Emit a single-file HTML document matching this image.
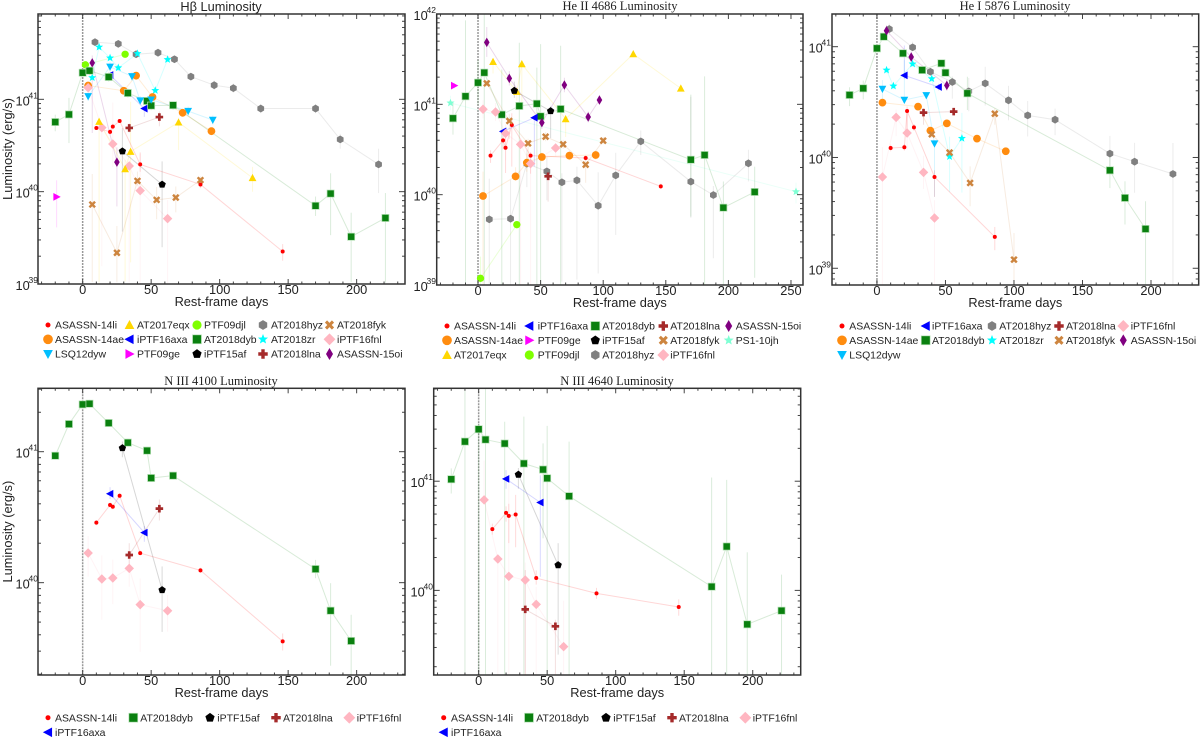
<!DOCTYPE html>
<html>
<head>
<meta charset="utf-8">
<title>Emission line luminosities</title>
<style>
html,body{margin:0;padding:0;background:#fff}
svg{display:block}
text{font-family:"Liberation Sans",sans-serif;fill:#222}
.ttl{font-family:"Liberation Serif",serif;font-size:12.5px;text-anchor:middle}
</style>
</head>
<body>
<svg id="chart" xmlns="http://www.w3.org/2000/svg" width="1200" height="743" viewBox="0 0 1200 743">
<rect width="1200" height="743" fill="#fff"/>
<text x="221" y="11" style="font-size:12.8px;text-anchor:middle">Hβ Luminosity</text>
<text x="620" y="10" class="ttl">He II 4686 Luminosity</text>
<text x="1015" y="10" class="ttl">He I 5876 Luminosity</text>
<text x="221" y="385" class="ttl">N III 4100 Luminosity</text>
<text x="617" y="385" class="ttl">N III 4640 Luminosity</text>
</svg>
<script>
// ---- Hβ panel: days, log10 luminosity, error up / down (dex)
const h_14li_d=[10,20,22,27,42,86,146];
const h_14li_l=[40.69,40.648,40.705,40.765,40.295,40.078,39.352];
const h_14li_u=[.02,.03,.03,.02,.13,.03,.08];
const h_14li_n=[.02,.03,.03,.02,.08,.04,.1];
const h_14ae_d=[4,30,39,51,73,94];
const h_14ae_l=[41.149,41.093,41.256,41.025,40.854,40.655];
const h_14ae_u=[.03,.03,.03,.03,.03,.03];
const h_14ae_n=[.03,.03,.03,.03,.03,.03];
const h_lsq_d=[4,20,36,42,50,77,95];
const h_lsq_l=[41.032,41.352,41.249,40.986,40.996,40.872,40.776];
const h_lsq_u=[.05,.05,.05,.05,.05,.05,.05];
const h_lsq_n=[.05,.05,.05,.05,.05,.05,.05];
const h_eqx_d=[12,31,35,70,124];
const h_eqx_l=[40.758,40.246,40.434,40.751,40.149];
const h_eqx_u=[.03,.1,.54,.05,.12];
const h_eqx_n=[1.74,1.22,1.2,.3,.15];
const h_axa_d=[20,45];
const h_axa_l=[41.263,40.9];
const h_axa_u=[.03,.03];
const h_axa_n=[.03,.09];
const h_ge_d=[-19];
const h_ge_l=[39.943];
const h_ge_u=[.18];
const h_ge_n=[.33];
const h_djl_d=[2,31];
const h_djl_l=[41.374,41.488];
const h_djl_u=[.02,.02];
const h_djl_n=[.02,.02];
const h_dyb_d=[-20,-10,0,5,19,33,47,50,66,170,181,196,221];
const h_dyb_l=[40.754,40.836,41.288,41.31,41.242,41.068,40.982,40.932,40.936,39.847,39.979,39.512,39.715];
const h_dyb_u=[.08,.18,.03,.03,.05,.05,.03,.03,.03,.1,.22,.26,.27];
const h_dyb_n=[.1,.31,.05,.05,.05,.05,.05,.05,.05,.11,.45,.49,.7];
const h_af_d=[29,58];
const h_af_l=[40.438,40.078];
const h_af_u=[.25,.25];
const h_af_n=[.87,.68];
const h_hyz_d=[9,26,39,55,67,79,96,110,130,170,188,216];
const h_hyz_l=[41.619,41.601,41.488,41.505,41.434,41.246,41.153,41.121,40.9,40.9,40.566,40.295];
const h_hyz_u=[.03,.03,.03,.03,.03,.03,.05,.05,.05,.05,.06,.17];
const h_hyz_n=[.03,.03,.03,.03,.03,.03,.05,.05,.05,.05,.1,.31];
const h_zr_d=[7,12,20,26,40,53,62];
const h_zr_l=[41.235,41.566,41.448,41.342,41.495,41.096,41.431];
const h_zr_u=[.03,.03,.03,.03,.03,.03,.03];
const h_zr_n=[.03,.03,.03,.03,.03,.03,.03];
const h_lna_d=[34,56];
const h_lna_l=[40.69,40.808];
const h_lna_u=[.05,.06];
const h_lna_n=[.05,.1];
const h_fyk_d=[7,25,40,54,68,86];
const h_fyk_l=[39.861,39.338,40.117,39.911,39.936,40.125];
const h_fyk_u=[.33,.29,.1,.14,.12,.04];
const h_fyk_n=[.84,.32,.05,.21,.16,.05];
const h_fnl_d=[4,14,22,34,42,62];
const h_fnl_l=[41.125,40.694,40.516,40.278,40.011,39.708];
const h_fnl_u=[.03,.03,.45,.06,.4,.2];
const h_fnl_n=[.03,1.5,.25,1.26,1,.7];
const h_oi_d=[7,25];
const h_oi_l=[41.395,40.32];
const h_oi_u=[.08,.16];
const h_oi_n=[.76,.48];

// ---- He II 4686 panel
const a_14li_d=[10,20,22,27,42,86,146];
const a_14li_l=[40.432,40.601,40.52,40.771,40.432,40.406,40.092];
const a_14li_u=[.06,.05,.18,.13,.04,.03,.03];
const a_14li_n=[.08,.1,.28,.46,.2,.03,.03];
const a_14ae_d=[4,30,39,51,73,94];
const a_14ae_l=[39.985,40.203,40.354,40.417,40.432,40.439];
const a_14ae_u=[.27,.1,.1,.05,.05,.05];
const a_14ae_n=[.98,.05,.1,.05,.05,.05];
const a_eqx_d=[12,31,35,70,124,162];
const a_eqx_l=[41.472,41.14,41.446,40.838,41.557,41.177];
const a_eqx_u=[.03,.03,.03,.03,.03,.03];
const a_eqx_n=[.13,.1,.5,.2,.03,.03];
const a_axa_d=[20,45];
const a_axa_l=[40.701,40.852];
const a_axa_u=[.03,.03];
const a_axa_n=[.05,.54];
const a_ge_d=[-19];
const a_ge_l=[41.207];
const a_ge_u=[.03];
const a_ge_n=[.03];
const a_djl_d=[2,31];
const a_djl_l=[39.074,39.668];
const a_djl_u=[.24,.03];
const a_djl_n=[.07,.03];
const a_dyb_d=[-20,-10,0,5,19,33,47,50,66,170,181,196,221];
const a_dyb_l=[40.845,41.089,41.24,41.351,40.886,40.982,41.007,40.867,40.948,40.387,40.439,39.856,40.03];
const a_dyb_u=[.17,.84,.25,.65,.5,.7,.4,.8,.7,.72,.87,.29,.28];
const a_dyb_n=[.18,2.07,.25,2.35,1.9,2,2.1,1.87,1.95,.63,1.44,.86,.95];
const a_af_d=[29,58];
const a_af_l=[41.151,40.926];
const a_af_u=[.1,.05];
const a_af_n=[.08,.3];
const a_hyz_d=[9,26,39,55,67,79,96,110,130,170,188,216];
const a_hyz_l=[39.727,39.734,40.343,40.258,40.137,40.159,39.878,40.214,40.59,40.144,39.996,40.347];
const a_hyz_u=[.45,.43,.15,.16,.1,.15,.37,.25,.12,.94,.1,.15];
const a_hyz_n=[.72,.73,.26,.32,1.1,1.1,.75,.66,.15,.4,.7,.2];
const a_lna_d=[56];
const a_lna_l=[40.203];
const a_lna_u=[.03];
const a_lna_n=[.28];
const a_fyk_d=[7,25,40,54,68,86,100];
const a_fyk_l=[41.232,40.816,40.568,40.642,40.557,40.332,40.598];
const a_fyk_u=[.03,.08,.05,.05,.05,.08,.04];
const a_fyk_n=[.03,.2,.22,.05,.05,.2,.04];
const a_fnl_d=[4,14,22,34,42,62];
const a_fnl_l=[40.945,40.915,40.679,40.557,40.343,40.517];
const a_fnl_u=[.1,.1,.1,.03,.05,.05];
const a_fnl_n=[.1,.1,.3,1.56,1.34,.1];
const a_oi_d=[7,25,51,69,88,97];
const a_oi_l=[41.686,41.288,40.797,41.214,40.86,41.048];
const a_oi_u=[.17,.08,.06,.08,.06,.05];
const a_oi_n=[.16,.08,.07,.08,.06,.05];
const a_ps1_d=[-22,254];
const a_ps1_l=[41.015,40.033];
const a_ps1_u=[.08,.1];
const a_ps1_n=[.08,.13];

// ---- He I 5876 panel
const b_14li_d=[10,20,22,27,42,86];
const b_14li_l=[40.086,40.092,40.42,40.272,39.824,39.283];
const b_14li_u=[.03,.03,.04,.03,.06,.09];
const b_14li_n=[.03,.03,.23,.03,.18,.12];
const b_14ae_d=[4,30,39,51,73,94];
const b_14ae_l=[40.495,40.459,40.242,40.308,40.17,40.056];
const b_14ae_u=[.03,.03,.03,.03,.03,.03];
const b_14ae_n=[.03,.03,.03,.03,.03,.03];
const b_lsq_d=[4,20,36,42];
const b_lsq_l=[40.618,40.519,40.561,40.125];
const b_lsq_u=[.08,.36,.03,.03];
const b_lsq_n=[.1,.03,.03,.48];
const b_axa_d=[20,45];
const b_axa_l=[40.741,40.636];
const b_axa_u=[.27,.03];
const b_axa_n=[.03,.03];
const b_dyb_d=[-20,-10,0,5,19,33,47,50,66,170,181,196];
const b_dyb_l=[40.564,40.624,40.985,41.09,40.94,40.789,40.85,40.765,40.579,39.884,39.635,39.355];
const b_dyb_u=[.07,.07,.03,.03,.03,.03,.03,.03,.15,.12,.15,.25];
const b_dyb_n=[.1,.1,.03,.03,.03,.03,.03,.03,.15,.16,.24,.5];
const b_hyz_d=[9,26,39,55,67,79,96,110,130,170,188,216];
const b_hyz_l=[41.159,40.994,40.774,40.681,40.597,40.669,40.516,40.38,40.341,40.035,39.962,39.851];
const b_hyz_u=[.05,.05,.03,.05,.12,.15,.13,.13,.1,.16,.17,.28];
const b_hyz_n=[.05,.03,.03,.15,.18,.2,.18,.19,.14,.18,.28,1];
const b_zr_d=[7,12,26,40,53,62];
const b_zr_l=[40.789,40.645,40.844,40.711,40.008,40.173];
const b_zr_u=[.03,.03,.03,.03,.18,.23];
const b_zr_n=[.03,.03,.03,.03,.32,.49];
const b_lna_d=[34,56];
const b_lna_l=[40.405,40.414];
const b_lna_u=[.04,.03];
const b_lna_n=[.11,.03];
const b_fyk_d=[40,53,68,86,100];
const b_fyk_l=[40.209,40.044,39.77,40.395,39.078];
const b_fyk_u=[.03,.03,.15,.05,.24];
const b_fyk_n=[.03,.03,.21,.1,.23];
const b_fnl_d=[4,14,22,34,42];
const b_fnl_l=[39.824,40.362,40.221,39.866,39.454];
const b_fnl_u=[.27,.07,.2,.15,.16];
const b_fnl_n=[.97,.17,.15,.15,.6];
const b_oi_d=[7,25,51];
const b_oi_l=[41.144,40.907,40.651];
const b_oi_u=[.05,.05,.05];
const b_oi_n=[.05,.05,.05];

// ---- N III 4100 panel
const c_14li_d=[10,20,22,27,42,86,146];
const c_14li_l=[40.458,40.593,40.58,40.664,40.226,40.094,39.552];
const c_14li_u=[.02,.02,.02,.02,.02,.02,.06];
const c_14li_n=[.02,.02,.02,.02,.02,.02,.07];
const c_dyb_d=[-20,-10,0,5,19,33,47,50,66,170,181,196];
const c_dyb_l=[40.969,41.211,41.361,41.366,41.219,41.069,41.008,40.799,40.817,40.104,39.786,39.555];
const c_dyb_u=[.03,.03,.03,.03,.03,.03,.03,.03,.03,.07,.21,.2];
const c_dyb_n=[.03,.03,.03,.03,.03,.03,.03,.03,.03,.07,.42,.26];
const c_axa_d=[20,45];
const c_axa_l=[40.679,40.382];
const c_axa_u=[.05,.05];
const c_axa_n=[.04,.07];
const c_af_d=[29,58];
const c_af_l=[41.028,39.944];
const c_af_u=[.05,.18];
const c_af_n=[.07,.32];
const c_lna_d=[34,56];
const c_lna_l=[40.211,40.565];
const c_lna_u=[.09,.07];
const c_lna_n=[.09,.09];
const c_fnl_d=[4,14,22,34,42,62];
const c_fnl_l=[40.226,40.028,40.036,40.109,39.832,39.786];
const c_fnl_u=[.13,.18,.14,.09,.2,.12];
const c_fnl_n=[.18,.31,.2,.14,.36,.16];

// ---- N III 4640 panel
const e_14li_d=[10,20,22,27,42,86,146];
const e_14li_l=[40.561,40.71,40.683,40.695,40.113,39.973,39.848];
const e_14li_u=[.05,.06,.11,.18,.07,.05,.07];
const e_14li_n=[.05,.08,.25,.3,.06,.05,.08];
const e_dyb_d=[-20,-10,0,5,19,33,47,50,66,170,181,196,221];
const e_dyb_l=[41.018,41.363,41.476,41.381,41.345,41.162,41.107,41.027,40.863,40.034,40.402,39.689,39.814];
const e_dyb_u=[.1,.5,.05,.5,.2,.43,.24,.48,.5,1,.61,.66,.33];
const e_dyb_n=[.13,2.13,2.24,2.15,2.12,1.93,.63,1.8,1.64,.81,1.18,.46,.6];
const e_af_d=[29,58];
const e_af_l=[41.061,40.232];
const e_af_u=[.06,.2];
const e_af_n=[.13,.82];
const e_axa_d=[20,45];
const e_axa_l=[41.021,40.805];
const e_axa_u=[.08,.25];
const e_axa_n=[.09,.68];
const e_lna_d=[34,56];
const e_lna_l=[39.826,39.671];
const e_lna_u=[.36,.06];
const e_lna_n=[.6,.44];
const e_fnl_d=[4,14,22,34,42,62];
const e_fnl_l=[40.829,40.287,40.128,40.095,39.872,39.485];
const e_fnl_u=[.36,.03,.85,.16,.16,.42];
const e_fnl_n=[.03,1.06,.9,.87,.65,.26];

// ---- tick labels
const xTicks=[0,50,100,150,200];
const xTicksWide=[0,50,100,150,200,250];

const NS='http://www.w3.org/2000/svg';
const root=document.getElementById('chart');
function mk(parent,tag,attrs,txt){
  const e=document.createElementNS(NS,tag);
  for(const k in attrs)e.setAttribute(k,attrs[k]);
  if(txt!==undefined)e.textContent=txt;
  parent.appendChild(e);
  return e;
}
const STY={
 'ASASSN-14li':['dot','#ff0000','red'],
 'ASASSN-14ae':['circle','#ff8c0f','orange'],
 'LSQ12dyw':['down','#00bfff','sky'],
 'AT2017eqx':['up','#ffd700','gold'],
 'iPTF16axa':['left','#0000ff','blue'],
 'PTF09ge':['right','#ff00ff','magenta'],
 'PTF09djl':['circle2','#7fff00','lime'],
 'AT2018dyb':['square','#0a800f','green'],
 'iPTF15af':['pent','#000000','black'],
 'AT2018hyz':['hex','#808080','gray'],
 'AT2018zr':['star','#00ffff','cyan'],
 'AT2018lna':['plus','#a52a2a','brown'],
 'AT2018fyk':['x','#cd853f','peru'],
 'iPTF16fnl':['diamond','#ffb6c1','pink'],
 'ASASSN-15oi':['thin','#800080','purple'],
 'PS1-10jh':['star','#7fffd4','aqua']
};
function poly(g,pts,col,x,y){
  return mk(g,'polygon',{points:pts.map(p=>(x+p[0]).toFixed(2)+','+(y+p[1]).toFixed(2)).join(' '),fill:col});
}
function marker(g,name,x,y,s){
  const st=STY[name],k=st[0],c=st[1];
  let m;
  if(k==='dot')m=mk(g,'circle',{cx:x,cy:y,r:1.85*s,fill:c});
  else if(k==='circle')m=mk(g,'circle',{cx:x,cy:y,r:3.6*s,fill:c});
  else if(k==='circle2')m=mk(g,'circle',{cx:x,cy:y,r:3.4*s,fill:c});
  else if(k==='square')m=mk(g,'rect',{x:x-3.3*s,y:y-3.3*s,width:6.6*s,height:6.6*s,fill:c,stroke:'#b5e0b5','stroke-width':.7});
  else if(k==='up')m=poly(g,[[0,-3.7*s],[3.6*s,3*s],[-3.6*s,3*s]],c,x,y);
  else if(k==='down')m=poly(g,[[0,3.7*s],[3.6*s,-3*s],[-3.6*s,-3*s]],c,x,y);
  else if(k==='left')m=poly(g,[[-3.8*s,0],[3*s,-3.6*s],[3*s,3.6*s]],c,x,y);
  else if(k==='right')m=poly(g,[[3.8*s,0],[-3*s,-3.6*s],[-3*s,3.6*s]],c,x,y);
  else if(k==='diamond')m=poly(g,[[0,-4.4*s],[4.4*s,0],[0,4.4*s],[-4.4*s,0]],c,x,y);
  else if(k==='thin')m=poly(g,[[0,-4.4*s],[2.6*s,0],[0,4.4*s],[-2.6*s,0]],c,x,y);
  else if(k==='pent'||k==='hex'){
    const n=k==='pent'?5:6,r=3.6*s,pts=[];
    for(let i=0;i<n;i++){const a=-Math.PI/2+i*2*Math.PI/n;pts.push([r*Math.cos(a),r*Math.sin(a)]);}
    m=poly(g,pts,c,x,y);
  }else if(k==='star'){
    const pts=[];
    for(let i=0;i<10;i++){const a=-Math.PI/2+i*Math.PI/5,r=(i%2?1.7:3.9)*s;pts.push([r*Math.cos(a),r*Math.sin(a)]);}
    m=poly(g,pts,c,x,y);
  }else if(k==='plus'){
    const a=3.5*s,b=1.25*s;
    m=poly(g,[[-b,-a],[b,-a],[b,-b],[a,-b],[a,b],[b,b],[b,a],[-b,a],[-b,b],[-a,b],[-a,-b],[-b,-b]],c,x,y);
  }else{
    const a=3.4*s,t=1.6*s;
    m=poly(g,[[-a,-a+t],[-a+t,-a],[0,-t],[a-t,-a],[a,-a+t],[t,0],[a,a-t],[a-t,a],[0,t],[-a+t,a],[-a,a-t],[-t,0]],c,x,y);
  }
  return m;
}
let clipId=0;
function panel(cfg,series){
  const L=cfg.box[0],T=cfg.box[1],R=cfg.box[2],B=cfg.box[3];
  const X=v=>L+(v-cfg.x[0])/(cfg.x[1]-cfg.x[0])*(R-L);
  const Y=v=>B-(v-cfg.y[0])/(cfg.y[1]-cfg.y[0])*(B-T);
  const g=mk(root,'g',{});
  
  
  const cid='clip'+(clipId++);
  const cp=mk(mk(g,'defs',{}),'clipPath',{id:cid});
  mk(cp,'rect',{x:L,y:T,width:R-L,height:B-T});
  const pl=mk(g,'g',{'clip-path':'url(#'+cid+')'});
  
  
  const zl=mk(pl,'line',{x1:X(0),x2:X(0),y1:T,y2:B,stroke:'#999','stroke-width':1.5,'stroke-dasharray':'2 1'});
  
  
  series.forEach(s=>{
    const name=s[0],d=s[1],l=s[2],u=s[3],n=s[4],col=STY[name][1];
    const sg=mk(pl,'g',{});
    
    
    d.forEach((v,i)=>{
      const eb=mk(sg,'line',{x1:X(v),x2:X(v),y1:Y(l[i]+u[i]),y2:Y(l[i]-n[i]),stroke:col,'stroke-width':1,'stroke-opacity':.15});
      
      
    });
    if(d.length>1){
      const ln=mk(sg,'polyline',{points:d.map((v,i)=>X(v)+','+Y(l[i])).join(' '),fill:'none',stroke:col,'stroke-width':1,'stroke-opacity':.16});
      
      
    }
    s.marks=d.map((v,i)=>[X(v),Y(l[i])]);
  });
  series.forEach(s=>{
    const mg=mk(pl,'g',{});
    
    
    s.marks.forEach(p=>{
      const pm=marker(mg,s[0],p[0],p[1],1.08);
      
      
    });
  });
  // ticks
  const tg=mk(g,'g',{stroke:'#444','stroke-width':1});
  
  
  for(let v=Math.ceil(cfg.x[0]/10)*10;v<=cfg.x[1];v+=10){
    const len=v%50===0?5:2.5,px=X(v);
    mk(tg,'line',{x1:px,x2:px,y1:B,y2:B-len});
    mk(tg,'line',{x1:px,x2:px,y1:T,y2:T+len});
  }
  for(let dec=Math.floor(cfg.y[0]);dec<=Math.ceil(cfg.y[1]);dec++){
    for(let m=1;m<10;m++){
      const v=dec+Math.log10(m);
      if(v<cfg.y[0]||v>cfg.y[1])continue;
      const len=m===1?6:3,py=Y(v);
      mk(tg,'line',{x1:L,x2:L+len,y1:py,y2:py});
      mk(tg,'line',{x1:R,x2:R-len,y1:py,y2:py});
    }
  }
  const fr=mk(g,'rect',{x:L,y:T,width:R-L,height:B-T,fill:'none',stroke:'#333','stroke-width':1.5});
  
  
  // tick labels
  cfg.xt.forEach(v=>{
    const t=mk(g,'text',{x:X(v),y:B+10,'text-anchor':'middle','font-size':12.8},String(v));
    
    
  });
  cfg.yt.forEach(dec=>{
    const py=Y(dec);
    const t=mk(g,'text',{x:cfg.ylx,y:py+6,'font-size':12.8},'10');
    
    
    const e=mk(g,'text',{x:cfg.ylx+13,y:py-1,'font-size':8.5},String(dec));
    
    
  });
  const xl=mk(g,'text',{x:(L+R)/2,y:B+22,'text-anchor':'middle','font-size':12.8},'Rest-frame days');
  
  
  if(cfg.yl){
    const cy=(T+B)/2;
    const yl=mk(g,'text',{x:12,y:cy,'text-anchor':'middle','font-size':12.8,transform:'rotate(-90 12 '+cy+')'},'Luminosity (erg/s)');
    
    
  }
  // legend
  const lg=mk(g,'g',{});
  
  
  cfg.legend.forEach(item=>{
    const eg=mk(lg,'g',{});
    
    
    const mm=marker(eg,item[0],item[1],item[3],1.35);
    
    
    const tt=mk(eg,'text',{x:item[2],y:item[3]+3.7,'font-size':10.45},item[0]);
    
    
  });
}
function legendGrid(cols,mx,tx,ys){
  const out=[];
  cols.forEach((c,i)=>c.forEach((n,j)=>out.push([n,mx[i],tx[i],ys[j]])));
  return out;
}
panel({name:'hbeta',box:[38,14,405,284],x:[-32.6,235.3],y:[39,41.924],xt:xTicks,yt:[39,40,41],ylx:15.5,yl:true,
 legend:legendGrid([['ASASSN-14li','ASASSN-14ae','LSQ12dyw'],['AT2017eqx','iPTF16axa','PTF09ge'],['PTF09djl','AT2018dyb','iPTF15af'],['AT2018hyz','AT2018zr','AT2018lna'],['AT2018fyk','iPTF16fnl','ASASSN-15oi']],
 [48,129.5,197,263,329.5],[55,137,204,271,337],[325,339.3,354])},
[['AT2018hyz',h_hyz_d,h_hyz_l,h_hyz_u,h_hyz_n],['PTF09djl',h_djl_d,h_djl_l,h_djl_u,h_djl_n],['AT2018zr',h_zr_d,h_zr_l,h_zr_u,h_zr_n],['ASASSN-14ae',h_14ae_d,h_14ae_l,h_14ae_u,h_14ae_n],['ASASSN-15oi',h_oi_d,h_oi_l,h_oi_u,h_oi_n],['iPTF16axa',h_axa_d,h_axa_l,h_axa_u,h_axa_n],['AT2018dyb',h_dyb_d,h_dyb_l,h_dyb_u,h_dyb_n],['LSQ12dyw',h_lsq_d,h_lsq_l,h_lsq_u,h_lsq_n],['iPTF16fnl',h_fnl_d,h_fnl_l,h_fnl_u,h_fnl_n],['AT2017eqx',h_eqx_d,h_eqx_l,h_eqx_u,h_eqx_n],['ASASSN-14li',h_14li_d,h_14li_l,h_14li_u,h_14li_n],['AT2018lna',h_lna_d,h_lna_l,h_lna_u,h_lna_n],['iPTF15af',h_af_d,h_af_l,h_af_u,h_af_n],['AT2018fyk',h_fyk_d,h_fyk_l,h_fyk_u,h_fyk_n],['PTF09ge',h_ge_d,h_ge_l,h_ge_u,h_ge_n]]);

panel({name:'he2',box:[436.7,14,803,285],x:[-33,259.6],y:[39,42],xt:xTicksWide,yt:[39,40,41,42],ylx:413.5,yl:false,
 legend:legendGrid([['ASASSN-14li','ASASSN-14ae','AT2017eqx'],['iPTF16axa','PTF09ge','PTF09djl'],['AT2018dyb','iPTF15af','AT2018hyz'],['AT2018lna','AT2018fyk','iPTF16fnl'],['ASASSN-15oi','PS1-10jh']],
 [447,529.3,595.3,663.3,728.7],[454,537.7,602.3,670.3,735.7],[326,340.3,355])},
[['PS1-10jh',a_ps1_d,a_ps1_l,a_ps1_u,a_ps1_n],['AT2018hyz',a_hyz_d,a_hyz_l,a_hyz_u,a_hyz_n],['PTF09djl',a_djl_d,a_djl_l,a_djl_u,a_djl_n],['ASASSN-14ae',a_14ae_d,a_14ae_l,a_14ae_u,a_14ae_n],['AT2017eqx',a_eqx_d,a_eqx_l,a_eqx_u,a_eqx_n],['AT2018dyb',a_dyb_d,a_dyb_l,a_dyb_u,a_dyb_n],['ASASSN-15oi',a_oi_d,a_oi_l,a_oi_u,a_oi_n],['iPTF16axa',a_axa_d,a_axa_l,a_axa_u,a_axa_n],['ASASSN-14li',a_14li_d,a_14li_l,a_14li_u,a_14li_n],['AT2018fyk',a_fyk_d,a_fyk_l,a_fyk_u,a_fyk_n],['AT2018lna',a_lna_d,a_lna_l,a_lna_u,a_lna_n],['iPTF15af',a_af_d,a_af_l,a_af_u,a_af_n],['iPTF16fnl',a_fnl_d,a_fnl_l,a_fnl_u,a_fnl_n],['PTF09ge',a_ge_d,a_ge_l,a_ge_u,a_ge_n]]);

panel({name:'he1',box:[832,14,1198.7,285],x:[-32.8,234.8],y:[38.849,41.295],xt:xTicks,yt:[39,40,41],ylx:808.5,yl:false,
 legend:legendGrid([['ASASSN-14li','ASASSN-14ae','LSQ12dyw'],['iPTF16axa','AT2018dyb'],['AT2018hyz','AT2018zr'],['AT2018lna','AT2018fyk'],['iPTF16fnl','ASASSN-15oi']],
 [842,925.7,992,1059,1123.3],[849.3,932,999.3,1066,1130.7],[326,340.3,355])},
[['AT2018hyz',b_hyz_d,b_hyz_l,b_hyz_u,b_hyz_n],['AT2018dyb',b_dyb_d,b_dyb_l,b_dyb_u,b_dyb_n],['ASASSN-15oi',b_oi_d,b_oi_l,b_oi_u,b_oi_n],['AT2018zr',b_zr_d,b_zr_l,b_zr_u,b_zr_n],['iPTF16axa',b_axa_d,b_axa_l,b_axa_u,b_axa_n],['LSQ12dyw',b_lsq_d,b_lsq_l,b_lsq_u,b_lsq_n],['ASASSN-14ae',b_14ae_d,b_14ae_l,b_14ae_u,b_14ae_n],['AT2018lna',b_lna_d,b_lna_l,b_lna_u,b_lna_n],['AT2018fyk',b_fyk_d,b_fyk_l,b_fyk_u,b_fyk_n],['iPTF16fnl',b_fnl_d,b_fnl_l,b_fnl_u,b_fnl_n],['ASASSN-14li',b_14li_d,b_14li_l,b_14li_u,b_14li_n]]);

panel({name:'n3-4100',box:[38,388.3,405,675],x:[-32.6,235.3],y:[39.295,41.484],xt:xTicks,yt:[40,41],ylx:15.5,yl:true,
 legend:legendGrid([['ASASSN-14li','iPTF16axa'],['AT2018dyb'],['iPTF15af'],['AT2018lna'],['iPTF16fnl']],
 [48,133.3,210,276,349.3],[55,140.3,217.3,283,356.7],[717.7,732.3])},
[['AT2018dyb',c_dyb_d,c_dyb_l,c_dyb_u,c_dyb_n],['iPTF15af',c_af_d,c_af_l,c_af_u,c_af_n],['ASASSN-14li',c_14li_d,c_14li_l,c_14li_u,c_14li_n],['iPTF16axa',c_axa_d,c_axa_l,c_axa_u,c_axa_n],['AT2018lna',c_lna_d,c_lna_l,c_lna_u,c_lna_n],['iPTF16fnl',c_fnl_d,c_fnl_l,c_fnl_u,c_fnl_n]]);

panel({name:'n3-4640',box:[433.7,388.3,800.7,675],x:[-32.8,235],y:[39.225,41.851],xt:xTicks,yt:[40,41],ylx:410.5,yl:false,
 legend:legendGrid([['ASASSN-14li','iPTF16axa'],['AT2018dyb'],['iPTF15af'],['AT2018lna'],['iPTF16fnl']],
 [443.7,529,606,672,745.3],[451,536.3,613.3,679,752.7],[717.7,732.3])},
[['AT2018dyb',e_dyb_d,e_dyb_l,e_dyb_u,e_dyb_n],['iPTF15af',e_af_d,e_af_l,e_af_u,e_af_n],['iPTF16axa',e_axa_d,e_axa_l,e_axa_u,e_axa_n],['ASASSN-14li',e_14li_d,e_14li_l,e_14li_u,e_14li_n],['iPTF16fnl',e_fnl_d,e_fnl_l,e_fnl_u,e_fnl_n],['AT2018lna',e_lna_d,e_lna_l,e_lna_u,e_lna_n]]);
</script>
</body>
</html>
